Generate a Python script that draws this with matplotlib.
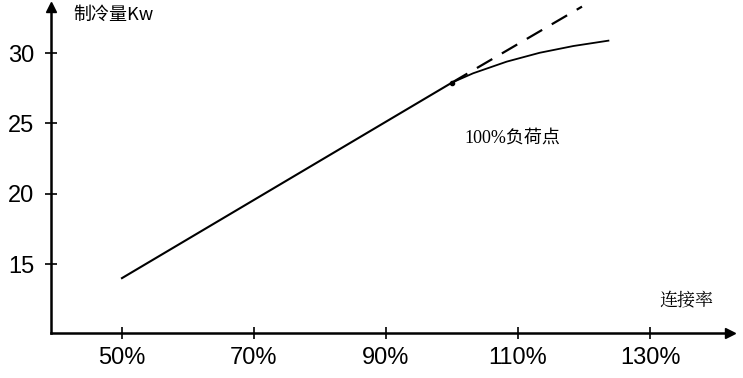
import matplotlib
matplotlib.use("Agg")
import matplotlib.pyplot as plt

# rate of connection (%) vs cooling capacity (kW)
line_x = [50, 100]
line_y = [14.0, 27.9]
dash_x = [100, 119.7]
dash_y = [27.9, 33.3]
curve_x = [100, 103.2, 108.3, 113.3, 118.4, 123.7]
curve_y = [27.9, 28.56, 29.39, 30.02, 30.50, 30.88]
xticks = [50, 70, 90, 110, 130]
xlabels = ["50%", "70%", "90%", "110%", "130%"]
yticks = [15, 20, 25, 30]

cjk = ["Noto Sans CJK SC", "DejaVu Sans"]
narrow = ["Liberation Sans", "DejaVu Sans"]

fig = plt.figure(figsize=(7.43, 3.78), dpi=100)
ax = fig.add_axes([0, 0, 1, 1])
ax.set_xlim(31.52, 144.09)
ax.set_ylim(6.90, 33.77)

# axes drawn as arrows through the origin of the sketch
x0, y0 = 39.2, 10.1
for s in ["top", "right"]:
    ax.spines[s].set_visible(False)
ax.spines["left"].set_position(("data", x0))
ax.spines["bottom"].set_position(("data", y0))
ax.spines["left"].set_bounds(y0, 33.0)
ax.spines["bottom"].set_bounds(x0, 141.5)
ax.spines["left"].set_linewidth(1.8)
ax.spines["bottom"].set_linewidth(1.8)
ax.plot(142.1, y0, ">", color="black", markersize=7, clip_on=False)
ax.plot(x0, 33.3, "^", color="black", markersize=7, clip_on=False)

ax.set_xticks(xticks)
ax.set_xticklabels(xlabels)
ax.set_yticks(yticks)
ax.tick_params(direction="inout", length=8, width=1.2)
ax.tick_params(axis="x", pad=6)
ax.tick_params(axis="y", pad=8)
for lab in ax.get_xticklabels() + ax.get_yticklabels():
    lab.set_family(narrow)
    lab.set_fontsize(17)

ax.plot(line_x, line_y, color="black", linewidth=1.5)
ax.plot(dash_x, dash_y, color="black", linewidth=1.6, dashes=(8, 5))
ax.plot(curve_x, curve_y, color="black", linewidth=1.3)
ax.plot(100, 27.9, "o", color="black", markersize=3)

ax.text(42.6, 32.7, "制冷量Kw", family=cjk, fontsize=13, ha="left", va="center")
ax.text(135.5, 12.4, "连接率", family=["Noto Serif CJK SC", "Noto Sans CJK SC"],
        fontsize=13, ha="center", va="center")
ax.text(109.2, 23.96, "100%负荷点", family=["Liberation Serif", "Noto Sans CJK SC"],
        fontsize=13, ha="center", va="center")

fig.savefig("out.png", dpi=100)
